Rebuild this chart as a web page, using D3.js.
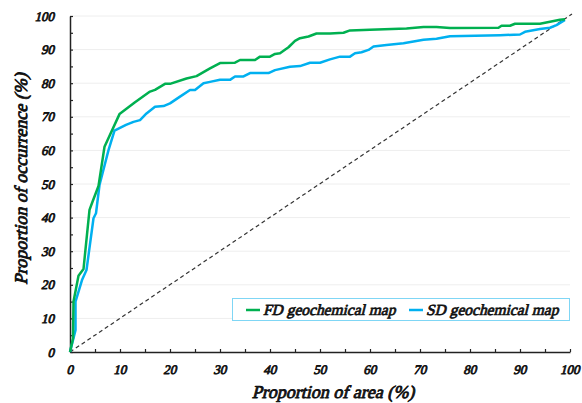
<!DOCTYPE html>
<html>
<head>
<meta charset="utf-8">
<script src="https://cdn.jsdelivr.net/npm/d3@7"></script>
<style>
  body { margin: 0; background: #fff; }
</style>
</head>
<body>
<div id="root"></div>
<script>
const width = 582, height = 403;
const serif = 'serif';
const slant = -14;

// proportion of area (%) / proportion of occurrence (%)
const fdArea = [0, 0.6, 0.7, 1.7, 2.7, 3.9, 4.5, 5.7, 6.9, 9.9, 13, 16, 17, 19, 20, 23.3, 25.3, 28, 30, 33, 34, 37, 38, 40, 41, 42, 43.7, 45, 46, 47.7, 49.3, 52, 54.7, 56, 60, 67.3, 70.7, 73.3, 76, 85.7, 86.3, 88, 89, 94, 96, 98, 99];
const fdOcc  = [0, 4, 15, 22.7, 24.7, 42.3, 44.7, 49.4, 61.1, 70.8, 74.3, 77.5, 78, 79.8, 79.8, 81.4, 82.1, 84.4, 86, 86.1, 86.9, 86.9, 87.9, 87.9, 88.7, 88.9, 90.7, 92.6, 93.4, 93.9, 94.8, 94.8, 95, 95.7, 95.9, 96.3, 96.7, 96.7, 96.4, 96.5, 97.1, 97.1, 97.7, 97.7, 98.3, 98.9, 99];
const sdArea = [0, 1.1, 1.1, 2.4, 3.3, 4.7, 5.2, 5.9, 7.7, 8.9, 11.2, 12.7, 14, 15.3, 17, 18.7, 20, 22, 24, 25, 26.7, 28, 30, 32, 33, 34.7, 36, 39.7, 41, 44, 46, 48, 50, 52, 54, 56, 57, 58.3, 59.7, 60.7, 63.3, 66.7, 70.7, 73.3, 76, 86, 90, 91, 94, 96, 97.3, 99];
const sdOcc  = [0, 6.5, 15, 21.4, 24.4, 39.8, 41.3, 49.7, 60.1, 65.9, 67.6, 68.5, 69, 71, 73, 73.2, 74, 76, 78, 78, 80, 80.4, 81, 81, 82, 82, 83, 83, 83.9, 84.9, 85.1, 86.1, 86.1, 87.1, 87.9, 87.9, 88.9, 89.2, 89.9, 90.9, 91.4, 91.9, 92.9, 93.2, 94, 94.3, 94.5, 95.3, 96.1, 96.5, 97.3, 98.8];
const refLine = [0, 100];
const seriesNames = ["FD geochemical map", "SD geochemical map"];
const seriesColors = ["#00b050", "#00b0f0"];

// no bold-italic serif face is installed: regular serif, thickened by a stroke and slanted
const styleText = (sel, size, sw) => sel
  .attr('font-family', serif).attr('font-style', 'normal').attr('font-weight', 'normal')
  .attr('font-size', size).attr('fill', '#111')
  .attr('stroke', '#111').attr('stroke-width', sw).attr('stroke-linejoin', 'round');

const svg = d3.select('#root').append('svg').attr('width', width).attr('height', height);

const x = d3.scaleLinear().domain([0, 100]).range([70, 570]);
const y = d3.scaleLinear().domain([0, 100]).range([352, 16]);

// faint gridlines
svg.append('g').selectAll('line').data(d3.range(10, 101, 10)).enter().append('line')
  .attr('x1', x(0)).attr('x2', x(100))
  .attr('y1', d => y(d)).attr('y2', d => y(d))
  .attr('stroke', '#eeeeee').attr('stroke-width', 1);

const ticks = d3.range(0, 101, 5);
const xAxis = d3.axisBottom(x).tickValues(ticks).tickSize(-3).tickSizeOuter(0).tickPadding(13)
  .tickFormat(d => d % 10 === 0 ? d : '');
const yAxis = d3.axisLeft(y).tickValues(ticks).tickSize(-3).tickSizeOuter(0).tickPadding(15)
  .tickFormat(d => d % 10 === 0 ? d : '');

const gx = svg.append('g').attr('transform', `translate(0,${y(0)})`).call(xAxis);
const gy = svg.append('g').attr('transform', `translate(${x(0)},0)`).call(yAxis);
[gx, gy].forEach(g => {
  g.select('.domain').attr('stroke', '#222').attr('stroke-width', 1.5);
  g.selectAll('.tick line').attr('stroke', '#222').attr('stroke-width', 1.2);
  g.selectAll('.tick text').call(styleText, 13, 0.8).attr('transform', `skewX(${slant})`);
});
gx.selectAll('.tick text').attr('dx', 4.7);
gy.selectAll('.tick text').attr('dx', 0);

// 1:1 reference line
svg.append('line')
  .attr('x1', x(refLine[0])).attr('y1', y(refLine[0]))
  .attr('x2', x(refLine[1]) + 2).attr('y2', y(refLine[1]) - 2)
  .attr('stroke', '#333').attr('stroke-width', 1.2).attr('stroke-dasharray', '4,3');

const line = d3.line().x(d => x(d[0])).y(d => y(d[1]));
svg.append('path').datum(d3.zip(sdArea, sdOcc)).attr('d', line)
  .attr('fill', 'none').attr('stroke', seriesColors[1]).attr('stroke-width', 2.5).attr('stroke-linejoin', 'round');
svg.append('path').datum(d3.zip(fdArea, fdOcc)).attr('d', line)
  .attr('fill', 'none').attr('stroke', seriesColors[0]).attr('stroke-width', 2.5).attr('stroke-linejoin', 'round');

// legend
const lg = svg.append('g');
lg.append('rect').attr('x', 232.5).attr('y', 298.5).attr('width', 337).attr('height', 22)
  .attr('fill', '#fff').attr('stroke', '#7fd6f5').attr('stroke-width', 1);
const itemX = [246, 409];
seriesNames.forEach((name, i) => {
  lg.append('line').attr('x1', itemX[i]).attr('x2', itemX[i] + 14)
    .attr('y1', 310).attr('y2', 310)
    .attr('stroke', seriesColors[i]).attr('stroke-width', 2.5);
  lg.append('text').attr('transform', `translate(${itemX[i] + 17},315) skewX(${slant})`)
    .call(styleText, 15.5, 0.75).text(name);
});

// axis titles
svg.append('text').attr('transform', `translate(333,398) skewX(${slant})`).attr('text-anchor', 'middle')
  .call(styleText, 18, 0.85).text('Proportion of area (%)');
svg.append('text').attr('transform', `translate(27,179) rotate(-90) skewX(${slant})`).attr('text-anchor', 'middle')
  .call(styleText, 18, 0.85).text('Proportion of occurrence (%)');
</script>
</body>
</html>
